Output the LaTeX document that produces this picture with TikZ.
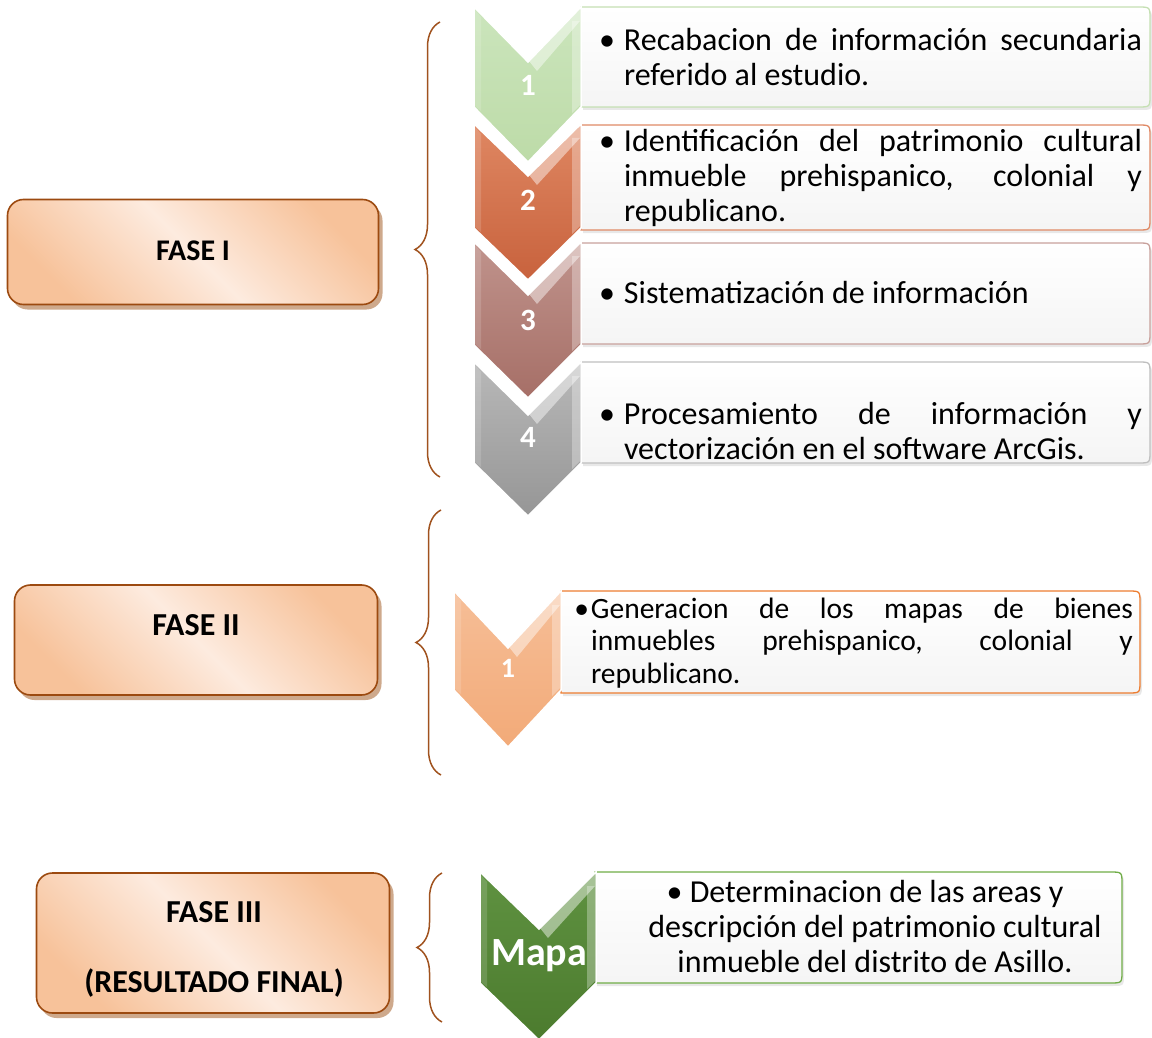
\documentclass[tikz,border=0pt]{standalone}
\usepackage{fontspec}
\setmainfont{Carlito}
\usetikzlibrary{decorations.pathreplacing,shadows,calc}
\hyphenpenalty=10000
\exhyphenpenalty=10000
\definecolor{faseborder}{HTML}{9C4A10}
\definecolor{fasedark}{HTML}{F7C29A}
\definecolor{faselight}{HTML}{FDEBDF}
\definecolor{faseshadow}{HTML}{C9A080}
\definecolor{bracecol}{HTML}{A0521E}
\definecolor{ca1}{HTML}{CBE5BC}\definecolor{cb1}{HTML}{BDDBA8}\definecolor{bd1}{HTML}{C5E0B3}
\definecolor{ca2}{HTML}{DF8762}\definecolor{cb2}{HTML}{C8623D}\definecolor{bd2}{HTML}{E08A66}
\definecolor{ca3}{HTML}{C0938C}\definecolor{cb3}{HTML}{A66F67}\definecolor{bd3}{HTML}{C8A19C}
\definecolor{ca4}{HTML}{B8B8B8}\definecolor{cb4}{HTML}{969696}\definecolor{bd4}{HTML}{BFBFBF}
\definecolor{ca5}{HTML}{F6BE97}\definecolor{cb5}{HTML}{F2AA78}\definecolor{bd5}{HTML}{ED7D31}
\definecolor{ca6}{HTML}{5F9241}\definecolor{cb6}{HTML}{4C7B2E}\definecolor{bd6}{HTML}{70AD47}
\newcommand\mychev[7]{% xl xm xr ytop ybot depth color
  \pgfmathsetmacro\cn{#4+#6}\pgfmathsetmacro\ct{#5+#6}
  \shade[top color=ca#7, bottom color=cb#7, draw=white, line width=1.5pt]
    (#1,#4) -- (#2,\cn) -- (#3,#4) -- (#3,#5) -- (#2,\ct) -- (#1,#5) -- cycle;
  \pgfmathsetmacro\hx{#2+9}\pgfmathsetmacro\hy{\cn+3}\pgfmathsetmacro\hz{#4+14}
  \pgfmathsetmacro\vx{#3-9}
  \fill[white, opacity=0.45] (#2+1,\cn-1) -- (#3-1,#4+2) -- (#3-1,\hz) -- (\hx,\hy+6) -- cycle;
  \fill[white, opacity=0.3] (\vx,\hz) -- (#3-1,\hz) -- (#3-1,#5-2) -- (\vx,#5+6) -- cycle;
  \fill[white, opacity=0.15] (#1+1,#4+3) -- (#1+7,#4+10) -- (#1+7,#5+4) -- (#1+1,#5-1) -- cycle;
}
\newcommand\myrbox[5]{% x1 y1 x2 y2 color
  \pgfmathsetmacro\xa{#3-12}\pgfmathsetmacro\ya{#2+12}\pgfmathsetmacro\yb{#4-12}
  \draw[draw=#5, line width=1.3pt, top color=white, bottom color=black!4,
        drop shadow={shadow xshift=2pt, shadow yshift=-3pt, opacity=0.18}]
    (#1,#4) -- (#1,#2) -- (\xa,#2) .. controls (#3,#2) .. (#3,\ya) -- (#3,\yb)
    .. controls (#3,#4) .. (\xa,#4) -- cycle;
}
\newcommand\bul{\llap{•\hspace{9pt}}}
\begin{document}
\begin{tikzpicture}[x=1pt,y=-1pt,
  fase/.style={draw=faseborder, line width=1.6pt, rounded corners=16pt,
    top color=fasedark, bottom color=fasedark, middle color=faselight, shading angle=-45,
    drop shadow={shadow xshift=4pt, shadow yshift=-5pt, fill=faseshadow, opacity=0.9},
    inner sep=0pt},
  flabel/.style={font=\fontsize{32}{40}\selectfont\bfseries, inner sep=0pt},
  btext/.style={text width=#1, align=justify, inner sep=0pt,
    font=\fontsize{32}{35}\selectfont},
  num/.style={text=white, font=\fontsize{31}{31}\selectfont\bfseries, inner sep=0pt},
  brc/.style={draw=bracecol, line width=1.5pt, decorate, decoration={brace, amplitude=25pt}}]
\useasboundingbox (0,0) rectangle (1152,1038);
% ---------- FASE boxes
\node[fase, minimum width=371pt, minimum height=105pt] (f1) at (193,252) {};
\node[fase, minimum width=363pt, minimum height=110pt] (f2) at (196,640) {};
\node[fase, minimum width=353pt, minimum height=140pt] (f3) at (213,943) {};
\node[flabel, font=\fontsize{30}{40}\selectfont\bfseries] (l1) at (193,251) {FASE I};
\node[flabel] (l2) at (196,625) {FASE II};
\node[flabel] (l3a) at (214,912) {FASE III};
\node[flabel] (l3b) at (214,983) {(RESULTADO FINAL)};
% ---------- braces
\coordinate (b1a) at (440,477); \coordinate (b1b) at (440,22);
\coordinate (b2a) at (441,775); \coordinate (b2b) at (441,510);
\coordinate (b3a) at (442,1022); \coordinate (b3b) at (442,873);
\draw[brc] (b1a) -- (b1b);
\draw[brc] (b2a) -- (b2b);
\draw[brc] (b3a) -- (b3b);
% ---------- FASE I
\myrbox{581}{7}{1150}{107}{bd1}
\myrbox{581}{125}{1150}{230}{bd2}
\myrbox{581}{243}{1150}{344}{bd3}
\myrbox{581}{362}{1150}{463}{bd4}
\mychev{474}{528}{581}{7}{107}{55}{1}
\mychev{474}{528}{581}{124}{228}{52}{2}
\mychev{474}{528}{581}{242}{345}{53}{3}
\mychev{474}{528}{581}{362}{463}{53}{4}
\node[num] (n1) at (528,85) {1};
\node[num] (n2) at (528,200) {2};
\node[num] (n3) at (528,320) {3};
\node[num] (n4) at (528,437) {4};
\node[btext=518pt] (t1) at (883,57) {\bul Recabacion de información secundaria\linebreak referido al estudio.};
\node[btext=518pt] (t2) at (883,178) {\bul Identificación del patrimonio cultural\linebreak inmueble prehispanico, colonial y\linebreak republicano.};
\node[btext=518pt] (t3) at (883,293) {\bul Sistematización de información};
\node[btext=518pt] (t4) at (883,431) {\bul Procesamiento de información y\linebreak vectorización en el software ArcGis.};
% ---------- FASE II
\myrbox{561}{591}{1140}{693}{bd5}
\mychev{454}{508}{561}{591}{690}{57}{5}
\node[num, font=\fontsize{28}{28}\selectfont\bfseries] (n5) at (508,668) {1};
\node[btext=542pt, font=\fontsize{29.5}{32.5}\selectfont] (t5) at (862,643) {\llap{•\hspace{2pt}}Generacion de los mapas de bienes\linebreak inmuebles prehispanico, colonial y\linebreak republicano.};
% ---------- FASE III
\myrbox{595}{872}{1122}{983}{bd6}
\mychev{480}{539}{596}{872}{983}{57}{6}
\node[num, font=\fontsize{40}{40}\selectfont\bfseries] (n6) at (539,956) {Mapa};
\node[align=center, inner sep=0pt, font=\fontsize{32}{35}\selectfont] (t6) at (875,927)
  {• Determinacion de las areas y\hspace*{20pt}\\descripción del patrimonio cultural\\inmueble del distrito de Asillo.};
\end{tikzpicture}
\end{document}
